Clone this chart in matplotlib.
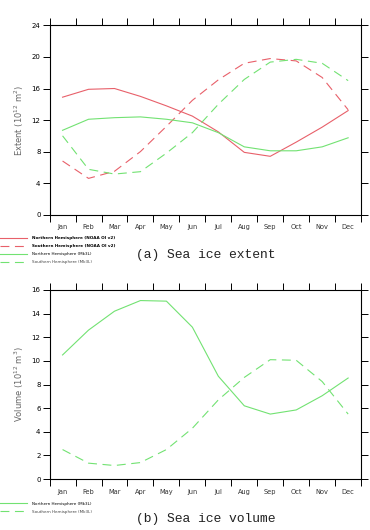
import matplotlib
matplotlib.use('Agg')
import matplotlib.pyplot as plt

months = ['Jan', 'Feb', 'Mar', 'Apr', 'May', 'Jun', 'Jul', 'Aug', 'Sep', 'Oct', 'Nov', 'Dec']

# sea ice extent (10^12 m^2)
ext_nh_obs = [14.9, 15.9, 16.0, 15.0, 13.8, 12.5, 10.5, 7.9, 7.4, 9.2, 11.1, 13.2]
ext_sh_obs = [6.8, 4.6, 5.5, 8.0, 11.2, 14.5, 17.1, 19.2, 19.8, 19.5, 17.4, 13.3]
ext_nh_mod = [10.7, 12.1, 12.3, 12.4, 12.1, 11.65, 10.4, 8.6, 8.1, 8.1, 8.6, 9.75]
ext_sh_mod = [10.0, 5.75, 5.15, 5.45, 7.8, 10.4, 14.0, 17.15, 19.35, 19.7, 19.2, 17.0]

# sea ice volume (10^12 m^3)
vol_nh_mod = [10.5, 12.6, 14.2, 15.1, 15.05, 12.85, 8.7, 6.2, 5.5, 5.85, 7.05, 8.55]
vol_sh_mod = [2.5, 1.35, 1.15, 1.4, 2.5, 4.3, 6.7, 8.6, 10.1, 10.05, 8.25, 5.5]

red = '#e8606a'
green = '#72e272'
dash = (0, (8, 5))

fig = plt.figure(figsize=(3.7, 5.3), dpi=100)
x = list(range(1, 13))


def style(ax, ymax, ystep, ylabel):
    ax.set_xlim(0.5, 12.5)
    ax.set_ylim(0, ymax)
    ax.set_xticks([i + 0.5 for i in range(0, 13)])
    ax.set_xticklabels([])
    ax.set_xticks(x, minor=True)
    ax.set_xticklabels(months, minor=True, fontsize=4.8, color='#333333')
    ax.tick_params(axis='x', which='minor', length=0, pad=7)
    ax.tick_params(axis='x', which='major', direction='out', length=5, width=0.7,
                   top=True, bottom=True)
    ax.set_yticks(range(0, ymax + 1, ystep))
    ax.tick_params(axis='y', direction='out', length=5, width=0.7, left=True, right=True,
                   labelsize=5, pad=1.5)
    ax.set_ylabel(ylabel, fontsize=6, color='#666666', labelpad=4)
    for s in ax.spines.values():
        s.set_linewidth(0.8)


ax1 = fig.add_axes([0.134, 0.595, 0.842, 0.357])
ax1.plot(x, ext_nh_obs, color=red, lw=0.8, label='Northern Hemisphere (NOAA OI v2)')
ax1.plot(x, ext_sh_obs, color=red, lw=0.8, ls=dash, label='Southern Hemisphere (NOAA OI v2)')
ax1.plot(x, ext_nh_mod, color=green, lw=0.8, label='Northern Hemisphere (Mk3L)')
ax1.plot(x, ext_sh_mod, color=green, lw=0.8, ls=dash, label='Southern Hemisphere (Mk3L)')
style(ax1, 24, 4, 'Extent (10$^{12}$ m$^{2}$)')

ax2 = fig.add_axes([0.134, 0.096, 0.842, 0.357])
ax2.plot(x, vol_nh_mod, color=green, lw=0.8, label='Northern Hemisphere (Mk3L)')
ax2.plot(x, vol_sh_mod, color=green, lw=0.8, ls=dash, label='Southern Hemisphere (Mk3L)')
style(ax2, 16, 2, 'Volume (10$^{12}$ m$^{3}$)')

leg_kw = dict(loc='upper left', frameon=False, fontsize=3.0, handlelength=6.5,
              handletextpad=1.2, labelspacing=0.95, borderaxespad=0, borderpad=0)
leg1 = ax1.legend(bbox_to_anchor=(-0.159, -0.115), **leg_kw)
for i, t in enumerate(leg1.get_texts()):
    if i < 2:
        t.set_fontweight('bold')
    t.set_color('black' if i < 3 else '#444444')

leg2 = ax2.legend(bbox_to_anchor=(-0.159, -0.12), **leg_kw)
leg2.get_texts()[1].set_color('#444444')

fig.text(0.555, 1 - 255 / 530, '(a) Sea ice extent', ha='center', va='center',
         family='Liberation Mono', fontsize=9.4, color='#222222')
fig.text(0.555, 1 - 519 / 530, '(b) Sea ice volume', ha='center', va='center',
         family='Liberation Mono', fontsize=9.4, color='#222222')

fig.savefig('out.png', dpi=100)
